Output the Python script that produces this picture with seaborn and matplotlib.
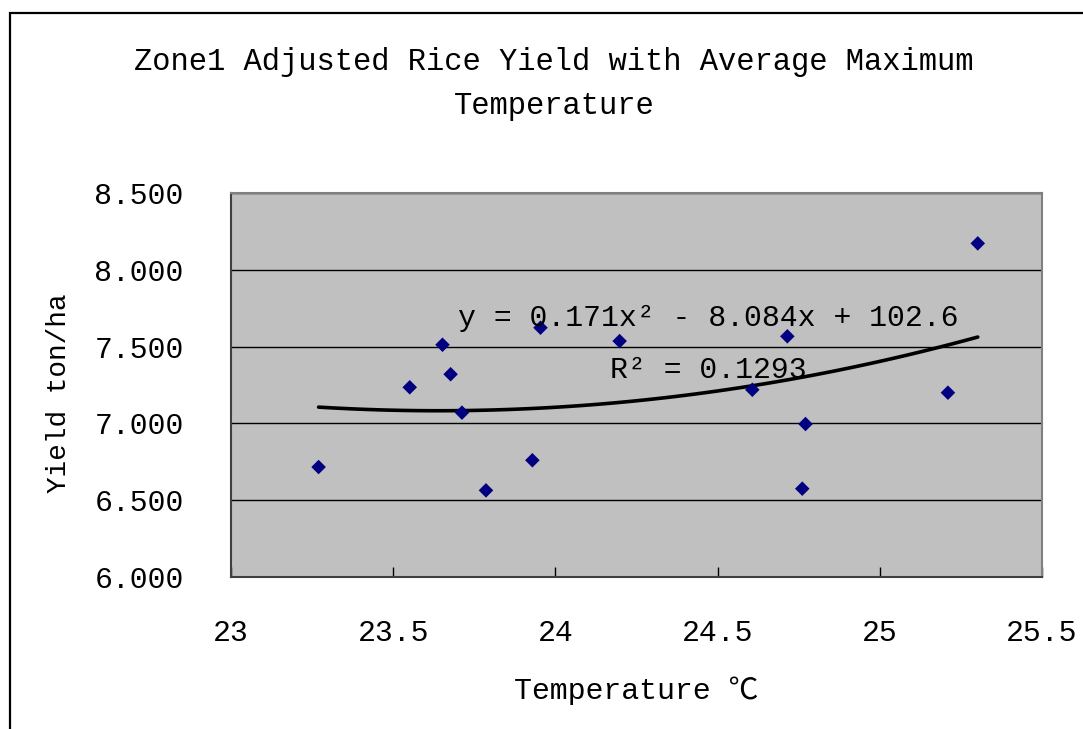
import numpy as np
import pandas as pd
import matplotlib
matplotlib.use("Agg")
import matplotlib.pyplot as plt
from matplotlib.patches import Rectangle
import seaborn as sns

# Data
temperature = [23.270, 23.551, 23.652, 23.677, 23.712, 23.786, 23.929, 23.954,
               24.198, 24.607, 24.715, 24.761, 24.771, 25.210, 25.302]
yield_tha = [6.716, 7.235, 7.512, 7.320, 7.070, 6.564, 6.760, 7.623,
             7.536, 7.219, 7.567, 6.575, 6.996, 7.200, 8.172]
x_ticks = [23, 23.5, 24, 24.5, 25, 25.5]
x_tick_labels = ["23", "23.5", "24", "24.5", "25", "25.5"]
y_ticks = [6.0, 6.5, 7.0, 7.5, 8.0, 8.5]
y_tick_labels = ["6.000", "6.500", "7.000", "7.500", "8.000", "8.500"]
title_lines = ["Zone1 Adjusted Rice Yield with Average Maximum", "Temperature"]
equation_text = "y = 0.171x² - 8.084x + 102.6"
r2_text = "R² = 0.1293"

df = pd.DataFrame({"Temperature": temperature, "Yield": yield_tha})

sns.set_theme(style="white")
FONT = ["Liberation Mono", "Noto Sans CJK SC", "DejaVu Sans"]
plt.rcParams["font.family"] = FONT

W, H = 1083, 729
fig = plt.figure(figsize=(W / 100, H / 100), dpi=100)
L, R, B, T = 231, 1042, 577, 193
ax = fig.add_axes([L / W, 1 - B / H, (R - L) / W, (B - T) / H])
ax.set_facecolor("#C0C0C0")

sns.regplot(data=df, x="Temperature", y="Yield", order=2, ci=None, ax=ax,
            marker="D", color="#000080",
            scatter_kws=dict(s=55, color="#000080", alpha=1, edgecolors="none", zorder=3),
            line_kws=dict(color="black", lw=2.6, alpha=1, zorder=2))

ax.set_xlim(23, 25.5)
ax.set_ylim(6.0, 8.5)
ax.set_xticks(x_ticks)
ax.set_xticklabels(x_tick_labels)
ax.set_yticks(y_ticks)
ax.set_yticklabels(y_tick_labels)
ax.yaxis.grid(True, color="black", lw=1.0)
ax.xaxis.grid(False)
ax.set_axisbelow(True)
ax.tick_params(axis="x", bottom=True, direction="in", length=7, width=1, color="black",
               labelsize=21.5, pad=30, labelcolor="black")
ax.tick_params(axis="y", left=False, length=0, labelsize=21.5, pad=34, labelcolor="black")
for s in ["top", "right"]:
    ax.spines[s].set_color("#808080")
    ax.spines[s].set_linewidth(1.5)
for s in ["left", "bottom"]:
    ax.spines[s].set_color("#404040")
    ax.spines[s].set_linewidth(1.5)

ax.set_xlabel("Temperature ℃", fontsize=21.5, color="black")
ax.set_ylabel("Yield ton/ha", fontsize=20, color="black")
ax.xaxis.set_label_coords(0.5, (B - 676) / (B - T))
ax.yaxis.set_label_coords((72 - L) / (R - L), (B - 393) / (B - T))

ax.text(0.589, (B - 318) / (B - T), equation_text, transform=ax.transAxes,
        ha="center", va="center", fontsize=21.5, color="black", zorder=4)
ax.text(0.589, (B - 370) / (B - T), r2_text, transform=ax.transAxes,
        ha="center", va="center", fontsize=21.5, color="black", zorder=4)

fig.text(554 / W, 1 - 62 / H, title_lines[0], ha="center", va="center",
         fontsize=22, color="black")
fig.text(554 / W, 1 - 106 / H, title_lines[1], ha="center", va="center",
         fontsize=22, color="black")

fig.patches.append(Rectangle((10 / W, -0.1), 1.2, 1 - 13 / H + 0.1,
                             transform=fig.transFigure, fill=False,
                             edgecolor="black", lw=1.6))

fig.savefig("out.png", dpi=100)
